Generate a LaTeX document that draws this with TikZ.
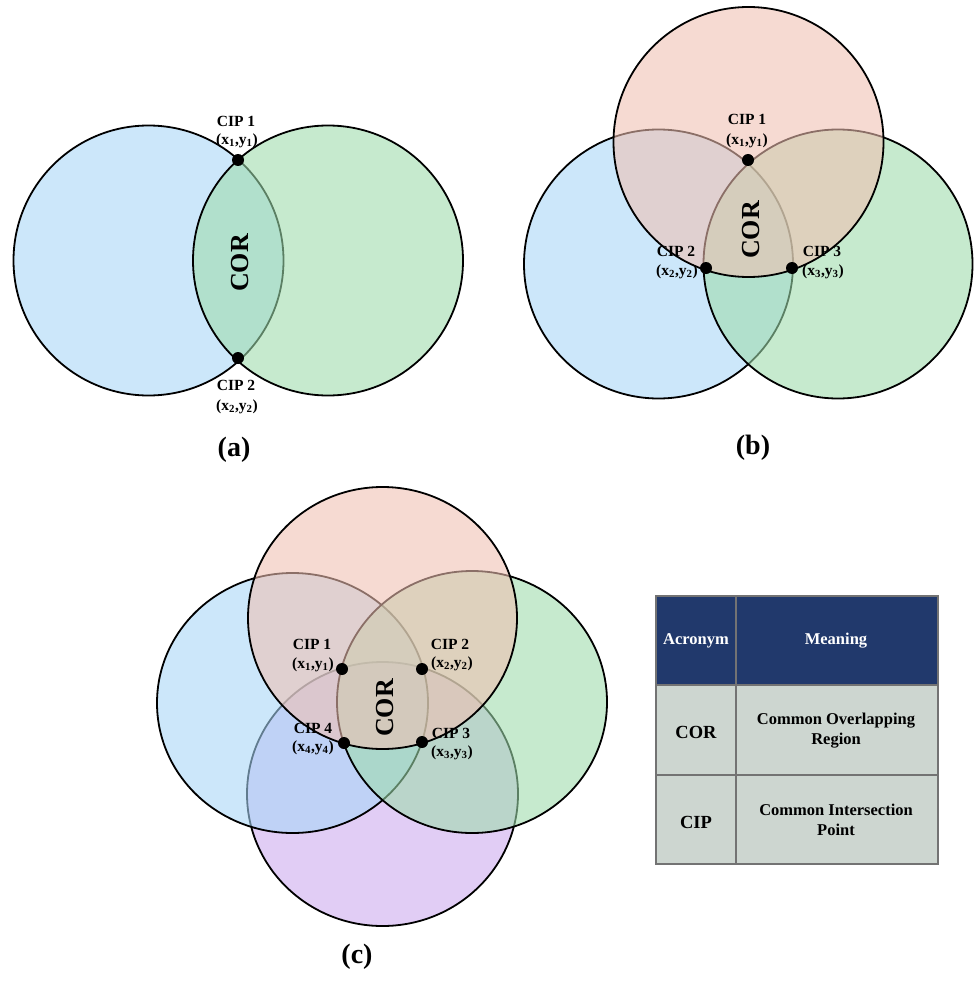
\documentclass[tikz,border=0pt]{standalone}
\usepackage{fontspec}
\setmainfont{Liberation Serif}
\definecolor{cblue}{RGB}{168,214,247}
\definecolor{cgreen}{RGB}{158,220,172}
\definecolor{cpink}{RGB}{240,192,178}
\definecolor{cpurple}{RGB}{205,170,238}
\definecolor{tabhead}{RGB}{33,57,108}
\definecolor{tabbody}{RGB}{205,214,208}
\definecolor{tabline}{RGB}{115,115,115}
\newcommand\cipxy[1]{(x\textsubscript{#1},y\textsubscript{#1})}
\tikzset{
  venn/.style={draw=black, line width=1.8pt, fill opacity=0.58, draw opacity=1},
  bluec/.style={venn, fill=cblue},
  greenc/.style={venn, fill=cgreen},
  pinkc/.style={venn, fill=cpink},
  purplec/.style={venn, fill=cpurple},
  cip/.style={circle, fill=black, inner sep=0pt, minimum size=12pt},
  lbl/.style={font=\bfseries\fontsize{15.5}{17}\selectfont, inner sep=0pt},
  corlbl/.style={font=\bfseries\fontsize{26}{28}\selectfont, rotate=90, inner sep=0pt},
  caplbl/.style={font=\bfseries\fontsize{28}{30}\selectfont, inner sep=0pt},
  tabtxt/.style={font=\bfseries\fontsize{16.5}{20}\selectfont, align=center, inner sep=0pt},
  tabgrid/.style={draw=tabline, line width=1.2pt},
}
\begin{document}
\begin{tikzpicture}[x=1pt, y=-1pt]
\useasboundingbox (0,0) rectangle (976,987);
\fill[white] (0,0) rectangle (976,987);

% ---------------- (a) ----------------
\draw[bluec] (148.5,260.5) circle[radius=135pt];
\draw[greenc] (328,260.5) circle[radius=135pt];
\node[cip] (a1) at (238,160) {};
\node[cip] (a2) at (238,358) {};
\node[lbl] (a1t) at (236,121) {CIP 1};
\node[lbl] (a1c) at (237,141) {\cipxy{1}};
\node[lbl] (a2t) at (236,385) {CIP 2};
\node[lbl] (a2c) at (237,407) {\cipxy{2}};
\node[corlbl] (acor) at (240,263) {COR};
\node[caplbl] (acap) at (234,450) {(a)};

% ---------------- (b) ----------------
\draw[bluec] (658.5,264) circle[radius=134.5pt];
\draw[greenc] (838,264) circle[radius=134.5pt];
\draw[pinkc] (748.5,142) circle[radius=135pt];
\node[cip] (b1) at (748,160) {};
\node[cip] (b2) at (706,268) {};
\node[cip] (b3) at (792,268) {};
\node[lbl] (b1t) at (747,119) {CIP 1};
\node[lbl] (b1c) at (747,141) {\cipxy{1}};
\node[lbl] (b2t) at (676,251) {CIP 2};
\node[lbl] (b2c) at (677,272) {\cipxy{2}};
\node[lbl] (b3t) at (822,251) {CIP 3};
\node[lbl] (b3c) at (823,272) {\cipxy{3}};
\node[corlbl] (bcor) at (751,230) {COR};
\node[caplbl] (bcap) at (753,448) {(b)};

% ---------------- (c) ----------------
\draw[purplec] (382.5,794) ellipse[x radius=135.5pt, y radius=132pt];
\draw[bluec] (292.5,703) ellipse[x radius=135.5pt, y radius=130pt];
\draw[greenc] (472,702) ellipse[x radius=135pt, y radius=131pt];
\draw[pinkc] (382.5,618) ellipse[x radius=134.5pt, y radius=131pt];
\node[cip] (c1) at (342,669) {};
\node[cip] (c2) at (422,669) {};
\node[cip] (c3) at (422,742) {};
\node[cip] (c4) at (344,743) {};
\node[lbl] (c1t) at (312,644) {CIP 1};
\node[lbl] (c1c) at (313,665) {\cipxy{1}};
\node[lbl] (c2t) at (450,644) {CIP 2};
\node[lbl] (c2c) at (452,664) {\cipxy{2}};
\node[lbl] (c3t) at (451,733) {CIP 3};
\node[lbl] (c3c) at (452,753) {\cipxy{3}};
\node[lbl] (c4t) at (313,728) {CIP 4};
\node[lbl] (c4c) at (313,748) {\cipxy{4}};
\node[corlbl] (ccor) at (385,708) {COR};
\node[caplbl] (ccap) at (357,957) {(c)};

% ---------------- table ----------------
\fill[tabhead] (656,596) rectangle (938,685);
\fill[tabbody] (656,685) rectangle (938,864);
\draw[tabgrid] (656,596) rectangle (938,864);
\draw[tabgrid] (656,685) -- (938,685);
\draw[tabgrid] (656,775) -- (938,775);
\draw[tabgrid] (736,596) -- (736,864);
\node[tabtxt, text=white] (h1) at (696,641) {Acronym};
\node[tabtxt, text=white] (h2) at (836,641) {Meaning};
\node[tabtxt, font=\bfseries\fontsize{18.5}{20}\selectfont] (r1a) at (696,732) {COR};
\node[tabtxt] (r1b) at (836,731) {Common Overlapping\\Region};
\node[tabtxt, font=\bfseries\fontsize{18.5}{20}\selectfont] (r2a) at (696,822) {CIP};
\node[tabtxt] (r2b) at (836,820) {Common Intersection\\Point};
\end{tikzpicture}
\end{document}
